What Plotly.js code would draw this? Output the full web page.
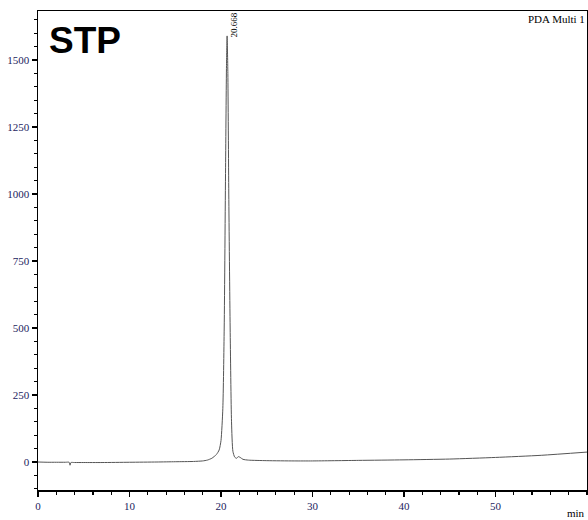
<!DOCTYPE html>
<html>
<head>
<meta charset="utf-8">
<script src="https://cdn.plot.ly/plotly-3.0.1.min.js"></script>
<style>html,body{margin:0;padding:0;background:#fff;}#chart{width:588px;height:520px;}</style>
</head>
<body>
<div id="chart"></div>
<script>
const timeMin = [0, 1, 2, 3, 3.4, 3.5, 3.6, 4, 5, 7, 10, 13, 15, 17, 18, 18.5, 19, 19.5, 19.8, 20.0, 20.2, 20.35, 20.5, 20.6, 20.668, 20.75, 20.85, 21.0, 21.15, 21.3, 21.5, 21.7, 21.9, 22.1, 22.4, 23, 25, 28, 30, 35, 40, 45, 50, 55, 60];
const signal = [0, -1, -1, -1, -1, -12, -2, -2, -2, -2, -1, 0, 1, 2, 4, 7, 14, 28, 45, 80, 200, 500, 1100, 1480, 1590, 1450, 1000, 500, 150, 40, 18, 14, 20, 17, 10, 7, 5, 4, 4, 6, 8, 11, 17, 25, 37];
const peakTime = 20.668;
const peakLabel = "20.668";
const xTicks = [0, 10, 20, 30, 40, 50];
const yTicks = [0, 250, 500, 750, 1000, 1250, 1500];

const tickFont = {family: "Liberation Serif", size: 11, color: "#1c1c5e"};

const trace = {
  x: timeMin, y: signal, type: "scatter", mode: "lines",
  line: {color: "#555555", width: 1, shape: "spline", smoothing: 0.6},
  hoverinfo: "skip"
};

const layout = {
  width: 588, height: 520,
  margin: {l: 38, r: 1, t: 11, b: 30},
  paper_bgcolor: "#fff", plot_bgcolor: "#fff",
  showlegend: false,
  xaxis: {
    range: [0, 60], tickvals: xTicks, ticktext: xTicks.map(String),
    showline: true, linecolor: "#000", linewidth: 1.5, mirror: true,
    ticks: "outside", ticklen: 5, tickwidth: 1.5, tickcolor: "#000",
    minor: {dtick: 2, ticks: "outside", ticklen: 3, tickwidth: 1.2, tickcolor: "#000"},
    showgrid: false, zeroline: false, tickfont: tickFont
  },
  yaxis: {
    range: [-104.5, 1683], tickvals: yTicks, ticktext: yTicks.map(String),
    showline: true, linecolor: "#000", linewidth: 1.5, mirror: true,
    ticks: "outside", ticklen: 5, tickwidth: 1.5, tickcolor: "#000",
    minor: {dtick: 50, ticks: "outside", ticklen: 3, tickwidth: 1.2, tickcolor: "#000"},
    showgrid: false, zeroline: false, tickfont: tickFont
  },
  annotations: [
    {xref: "paper", yref: "paper", x: 0.016, y: 0.985, xanchor: "left", yanchor: "top",
     text: "<b>STP</b>", showarrow: false, font: {family: "Liberation Sans", size: 37, color: "#000"}},
    {xref: "x", yref: "y", x: peakTime, y: 1629, xshift: 7, xanchor: "center", yanchor: "middle",
     text: peakLabel, textangle: -90, showarrow: false, font: {family: "Liberation Serif", size: 9, color: "#000"}},
    {xref: "paper", yref: "paper", x: 1, y: 1, xanchor: "right", yanchor: "top",
     text: "PDA Multi 1", showarrow: false, font: {family: "Liberation Serif", size: 11, color: "#000"}},
    {xref: "paper", yref: "paper", x: 1, y: 0, xanchor: "right", yanchor: "top", yshift: -15,
     text: "min", showarrow: false, font: {family: "Liberation Serif", size: 11, color: "#000"}}
  ]
};

Plotly.newPlot("chart", [trace], layout, {staticPlot: true, displayModeBar: false});
</script>
</body>
</html>
